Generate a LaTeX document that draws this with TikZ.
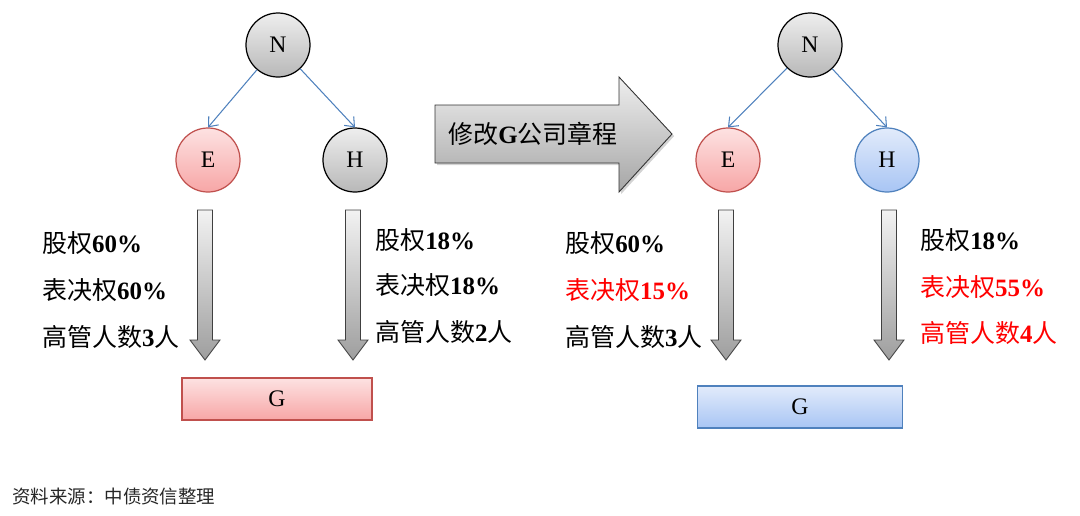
\documentclass[tikz,border=0pt]{standalone}
\usepackage{fontspec}
\setmainfont{Liberation Serif}
\newfontfamily\cjk{Noto Sans CJK SC}
\usetikzlibrary{arrows.meta,shadows}
\definecolor{redline}{HTML}{C0504D}
\definecolor{redtop}{HTML}{FDE2E2}
\definecolor{redbot}{HTML}{F7A6A6}
\definecolor{blueline}{HTML}{4F81BD}
\definecolor{bluetop}{HTML}{E2EBFB}
\definecolor{bluebot}{HTML}{A8C5F4}
\definecolor{graytop}{HTML}{EEEEEE}
\definecolor{graybot}{HTML}{B8B8B8}
\definecolor{hotred}{HTML}{FF0000}
\tikzset{
  circ/.style={circle, draw, line width=0.7pt, minimum size=64*0.02cm, inner sep=0pt,
    font=\fontsize{13.5}{15}\selectfont},
  graycirc/.style={circ, draw=black, top color=graytop, bottom color=graybot},
  redcirc/.style={circ, draw=redline, top color=redtop, bottom color=redbot},
  bluecirc/.style={circ, draw=blueline, top color=bluetop, bottom color=bluebot},
  gbox/.style={rectangle, draw, line width=0.6pt, inner sep=0pt, font=\fontsize{13.5}{15}\selectfont},
  link/.style={draw=blueline, line width=0.6pt, -{Straight Barb[length=1.6mm,width=2.6mm]}},
  lbl/.style={anchor=west, inner sep=0pt, font=\fontsize{14.2}{16}\selectfont},
  downarrow/.pic={
    \path[draw=black!75, line width=0.5pt, top color=white!95!black, bottom color=black!38]
      (-7.5,0) -- (7.5,0) -- (7.5,130) -- (15,130) -- (0,150) -- (-15,130) -- (-7.5,130) -- cycle;
  }
}
\newcommand{\zh}[1]{{\cjk #1}}
\begin{document}
\begin{tikzpicture}[x=0.02cm, y=-0.02cm]
    \useasboundingbox (0,0) rectangle (1080,515);
    % Left tree
    \node [graycirc] (nleft) at (278,45) {N};
    \node [redcirc] (eleft) at (208,160) {E};
    \node [graycirc] (hleft) at (355,160) {H};
    \node [gbox, draw=redline, top color=redtop, bottom color=redbot,
      minimum width=190*0.02cm, minimum height=42*0.02cm] (gleft) at (277,399) {G};
    \path [link] (nleft) -- (eleft.north);
    \path [link] (nleft) -- (hleft.north);
    \pic at (205,210) {downarrow};
    \pic at (353,210) {downarrow};
    \node [lbl] (ela1) at (42,243) {\zh{股权}\textbf{60\%}};
    \node [lbl] (ela2) at (42,290) {\zh{表决权}\textbf{60\%}};
    \node [lbl] (ela3) at (42,337) {\zh{高管人数}\textbf{3}\zh{人}};
    \node [lbl] (hla1) at (375,240) {\zh{股权}\textbf{18\%}};
    \node [lbl] (hla2) at (375,285) {\zh{表决权}\textbf{18\%}};
    \node [lbl] (hla3) at (375,332) {\zh{高管人数}\textbf{2}\zh{人}};
    % Middle arrow
    \path [draw=black!80, line width=0.5pt, top color=graytop, bottom color=black!35,
      drop shadow={shadow xshift=1.2pt, shadow yshift=-1.2pt, opacity=0.35}]
      (435,105) -- (619,105) -- (619,77) -- (672,134) -- (619,192) -- (619,163) -- (435,163) -- cycle;
    \node [lbl, anchor=center] (change) at (533,134) {\zh{修改}\textbf{G}\zh{公司章程}};
    % Right tree
    \node [graycirc] (nright) at (810,45) {N};
    \node [redcirc] (eright) at (728,160) {E};
    \node [bluecirc] (hright) at (887,160) {H};
    \node [gbox, draw=blueline, top color=bluetop, bottom color=bluebot,
      minimum width=205*0.02cm, minimum height=42*0.02cm] (gright) at (800,407) {G};
    \path [link] (nright) -- (eright.north);
    \path [link] (nright) -- (hright.north);
    \pic at (726,210) {downarrow};
    \pic at (889,210) {downarrow};
    \node [lbl] (era1) at (565,243) {\zh{股权}\textbf{60\%}};
    \node [lbl, text=hotred] (era2) at (565,290) {\zh{表决权}\textbf{15\%}};
    \node [lbl] (era3) at (565,337) {\zh{高管人数}\textbf{3}\zh{人}};
    \node [lbl] (hra1) at (920,240) {\zh{股权}\textbf{18\%}};
    \node [lbl, text=hotred] (hra2) at (920,287) {\zh{表决权}\textbf{55\%}};
    \node [lbl, text=hotred] (hra3) at (920,333) {\zh{高管人数}\textbf{4}\zh{人}};
    % Source
    \node [anchor=west, inner sep=0pt, text=black!85, font=\cjk\fontsize{10.5}{12}\selectfont]
      (source) at (12,497) {资料来源：中债资信整理};
\end{tikzpicture}
\end{document}
